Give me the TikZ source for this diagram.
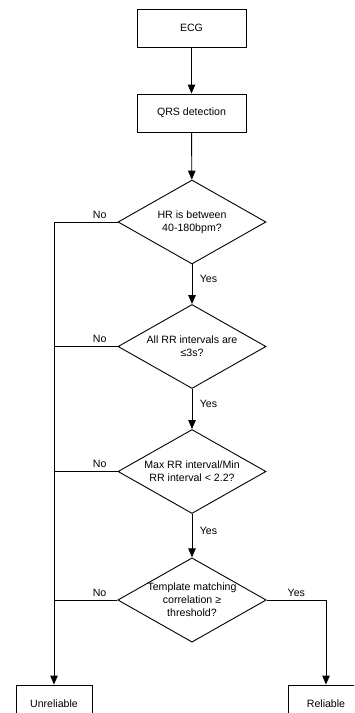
\documentclass[tikz,border=0pt]{standalone}
\usepackage{fontspec}
\setmainfont{Liberation Sans}
\usetikzlibrary{shapes.geometric,arrows.meta}

\begin{document}
\begin{tikzpicture}[x=1pt,y=-1pt,
        line width=0.9pt,
        every node/.style={font=\fontsize{10.6}{13}\selectfont},
        stepbox/.style={draw,minimum width=109pt,minimum height=38pt,inner sep=0pt},
        endbox/.style={draw,minimum width=76pt,minimum height=38pt,inner sep=0pt},
        test/.style={draw,diamond,aspect=1.76,minimum width=148pt,minimum height=84pt,
                     inner sep=0pt,align=center},
        arr/.style={-{Triangle[length=9pt,width=7.5pt]}}]

            \useasboundingbox (0,0) rectangle (354,713);
            \clip (0,0) rectangle (354,713);

            % boxes
            \node[stepbox] (ecg) at (191.5,28) {ECG};
            \node[stepbox] (qrs) at (191.5,113) {QRS detection};
            % tests
            \node[test] (hr) at (192,222) {HR is between\\40-180bpm?};
            \node[test] (rr) at (192,346.5) {All RR intervals are\\≤3s?};
            \node[test] (ratio) at (192,471.5) {Max RR interval/Min\\RR interval < 2.2?};
            \node[test] (tm) at (192,600) {Template matching\\correlation ≥\\threshold?};
            % results (cut off by the page)
            \node[endbox] (unrel) at (54,704) {Unreliable};
            \node[endbox] (rel) at (326,704) {Reliable};

            \draw[arr] (ecg) -- (qrs);
            \draw[arr] (qrs) -- (hr);
            \draw[arr] (hr) -- node[right,xshift=4pt,yshift=5pt] {Yes} (rr);
            \draw[arr] (rr) -- node[right,xshift=4pt,yshift=5pt] {Yes} (ratio);
            \draw[arr] (ratio) -- node[right,xshift=4pt,yshift=5pt] {Yes} (tm);

            % no branches
            \draw[arr] (hr.west) -- node[pos=0.28,above] {No} (hr.west -| unrel) -- (unrel);
            \draw (rr.west) -- node[pos=0.28,above] {No} (rr.west -| unrel);
            \draw (ratio.west) -- node[pos=0.28,above] {No} (ratio.west -| unrel);
            \draw (tm.west) -- node[pos=0.28,above] {No} (tm.west -| unrel);
            \draw[arr] (tm.east) -| node[pos=0.25,above] {Yes} (rel);
        \end{tikzpicture}
\end{document}
